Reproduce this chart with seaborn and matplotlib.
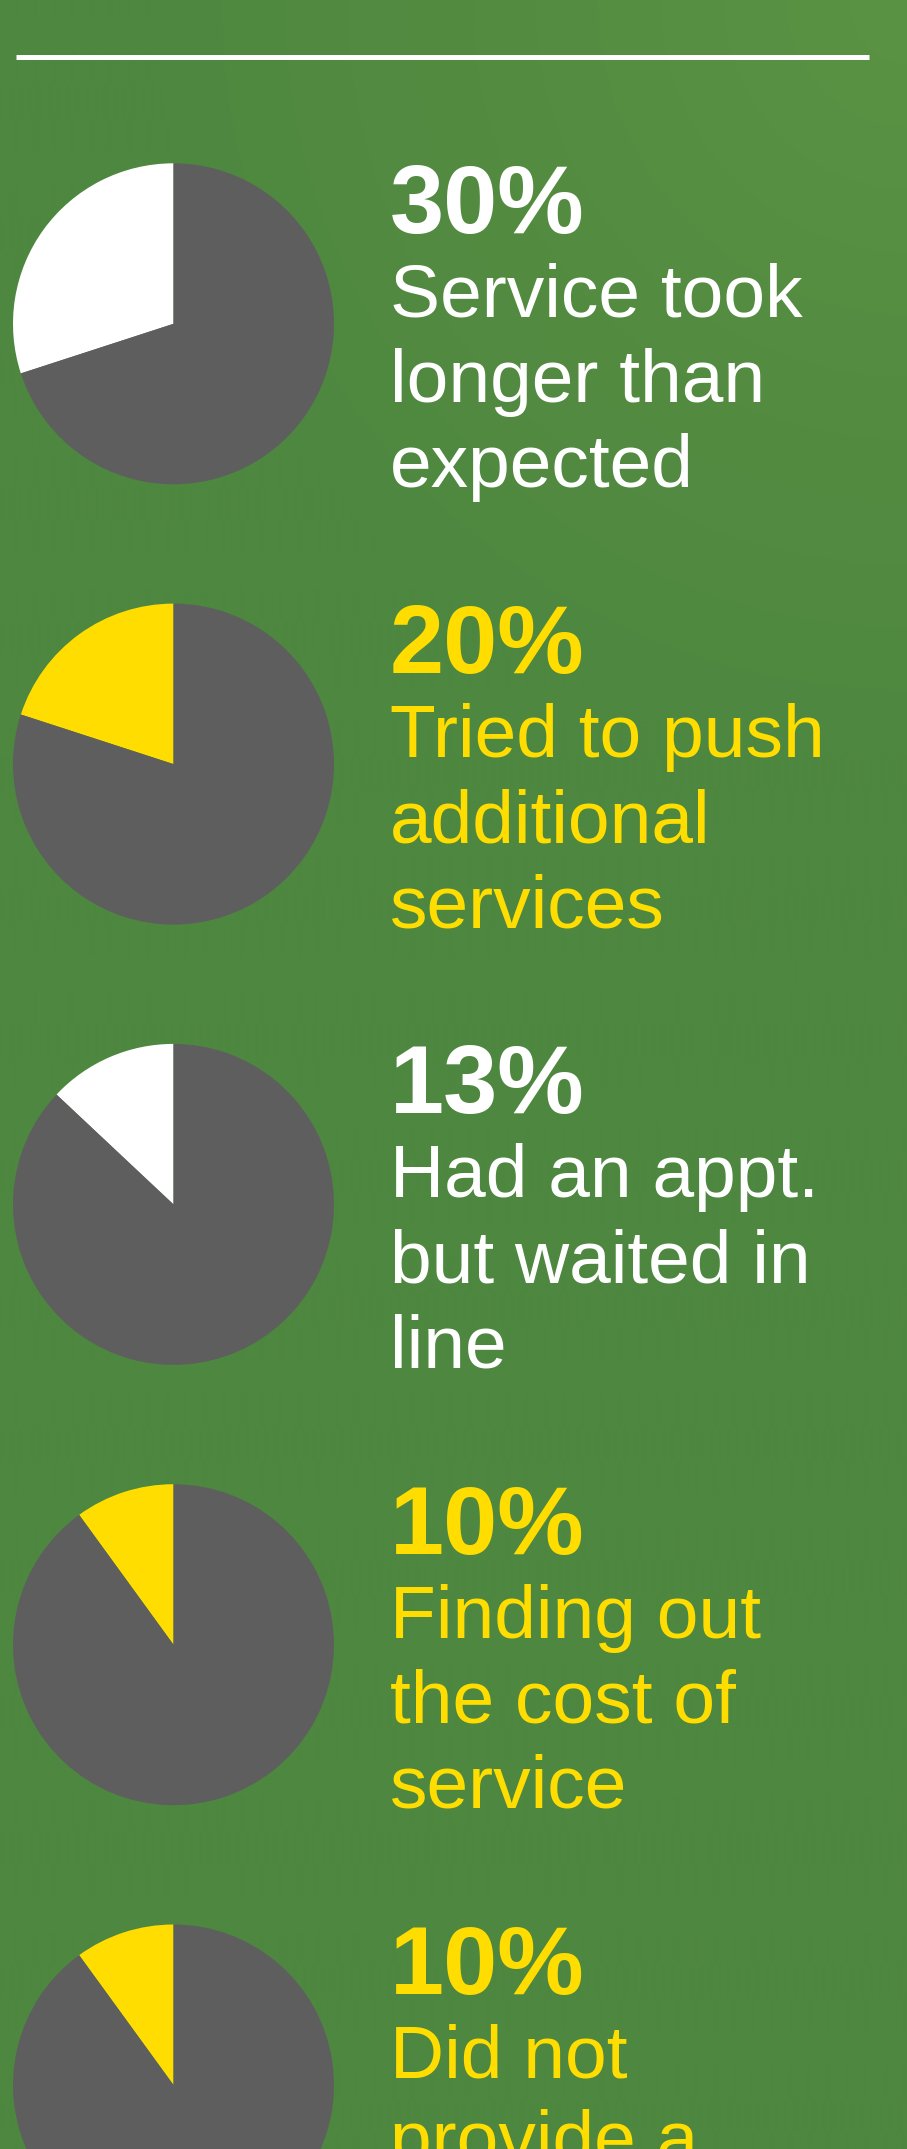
#!/usr/bin/env python3
# Service complaints - stacked single-value pie infographic

import numpy as np
import matplotlib
matplotlib.use('Agg')
import matplotlib.pyplot as plt
import seaborn as sns

sns.set_theme(style='white')
plt.rcParams['font.family'] = ['Liberation Sans', 'DejaVu Sans']

# Data
percents = [30, 20, 13, 10, 10]
descriptions = [
    ['Service took', 'longer than', 'expected'],
    ['Tried to push', 'additional', 'services'],
    ['Had an appt.', 'but waited in', 'line'],
    ['Finding out', 'the cost of', 'service'],
    ['Did not', 'provide a'],
]
accents = ['white', 'yellow', 'white', 'yellow', 'yellow']

palette = {'white': '#ffffff', 'yellow': '#ffdd00'}
gray = '#5e5e5e'
green = np.array([0x4e, 0x87, 0x3f]) / 255
green_light = np.array([0x5a, 0x93, 0x43]) / 255

W, H = 907, 2149
fig = plt.figure(figsize=(W / 100, H / 100), dpi=100)

# Background with a soft lighter corner at top right
bg = fig.add_axes([0, 0, 1, 1])
yy, xx = np.mgrid[0:H // 4, 0:W // 4] * 4
dist = np.hypot(xx - W, yy)
t = np.clip(1 - dist / 750, 0, 1)[..., None]
img = green * (1 - t) + green_light * t
bg.imshow(img, extent=[0, W, H, 0], aspect='auto', interpolation='bilinear')
bg.set_xlim(0, W)
bg.set_ylim(H, 0)
bg.axis('off')

# white divider line
bg.plot([16, 869], [57, 57], color='white', lw=3.6, solid_capstyle='butt')

cx, cy0, step, r = 173.5, 323.8, 440.3, 160.5
text_x = 390

for i, (pct, lines, acc) in enumerate(zip(percents, descriptions, accents)):
    cy = cy0 + step * i
    ax = fig.add_axes([(cx - r) / W, 1 - (cy + r) / H, 2 * r / W, 2 * r / H])
    ax.pie([pct, 100 - pct], colors=[palette[acc], gray], startangle=90,
           counterclock=True, wedgeprops={'linewidth': 0})
    ax.set_xlim(-1, 1)
    ax.set_ylim(-1, 1)
    ax.axis('off')

    col = palette[acc]
    bg.text(text_x, cy - 91, f'{pct}%', color=col, fontsize=70,
            fontweight='bold', va='baseline', ha='left')
    for j, line in enumerate(lines):
        bg.text(text_x, cy - 7 + 85 * j, line, color=col, fontsize=54,
                va='baseline', ha='left')

fig.savefig('out.png', dpi=100)
